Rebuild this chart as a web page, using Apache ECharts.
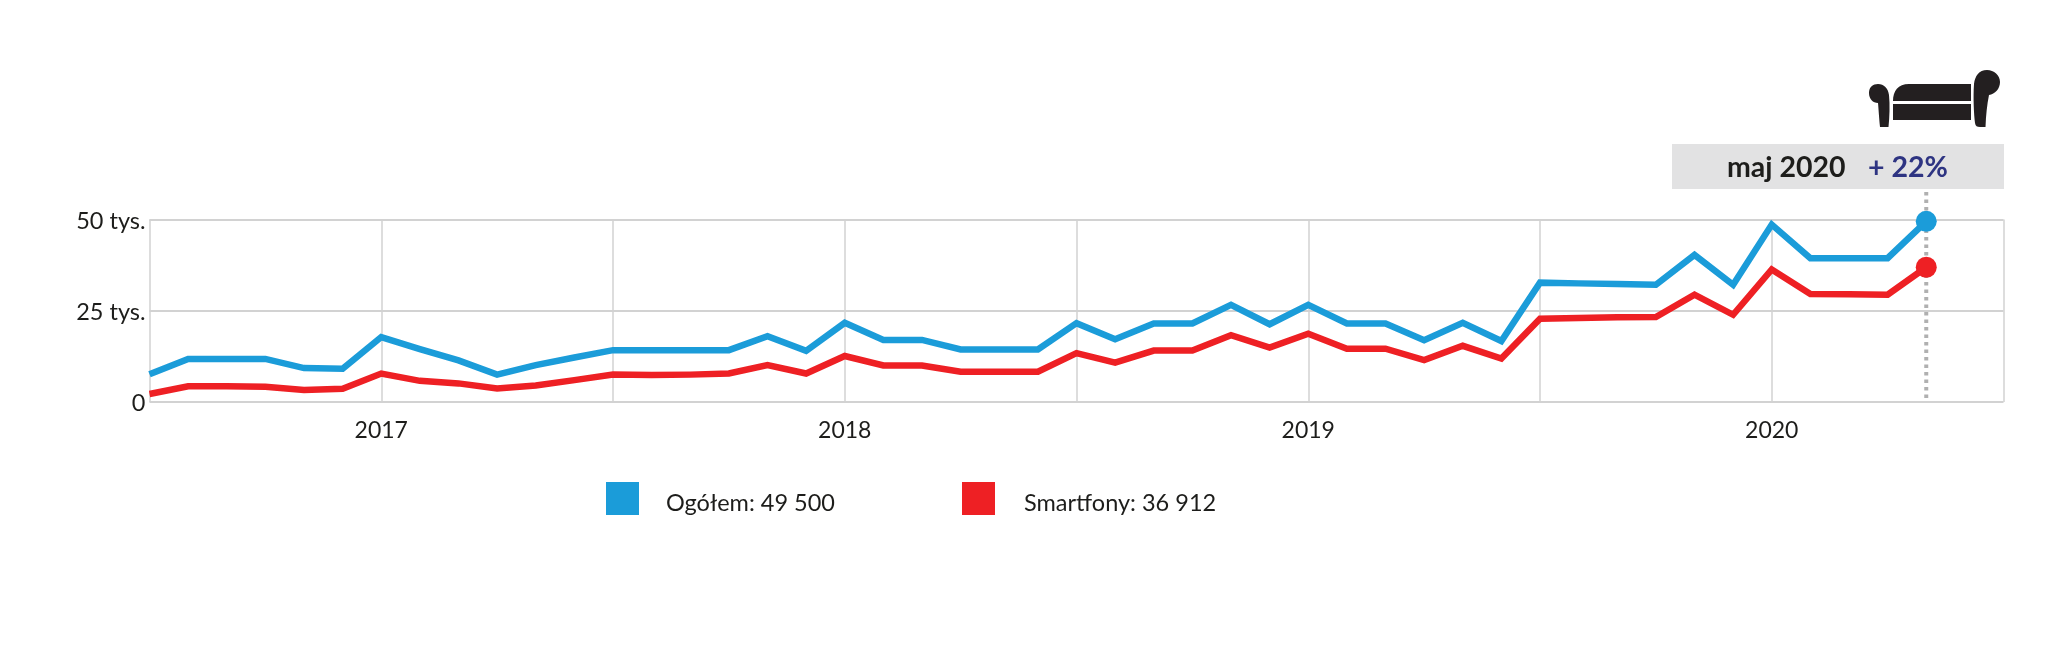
<!DOCTYPE html>
<html><head><meta charset="utf-8">
<style>html,body{margin:0;padding:0;background:#fff}#c{width:2048px;height:647px}</style>
<script src="https://cdn.jsdelivr.net/npm/echarts@6/dist/echarts.min.js"></script>
</head><body><div id="c"></div>
<script>
const months = [
 '2016-07','2016-08','2016-09','2016-10','2016-11','2016-12',
 '2017-01','2017-02','2017-03','2017-04','2017-05','2017-06','2017-07','2017-08','2017-09','2017-10','2017-11','2017-12',
 '2018-01','2018-02','2018-03','2018-04','2018-05','2018-06','2018-07','2018-08','2018-09','2018-10','2018-11','2018-12',
 '2019-01','2019-02','2019-03','2019-04','2019-05','2019-06','2019-07','2019-08','2019-09','2019-10','2019-11','2019-12',
 '2020-01','2020-02','2020-03','2020-04','2020-05','2020-06','2020-07'];
const total = [7600,11800,11800,11800,9300,9100,
 17800,14500,11400,7500,10100,12200,14200,14200,14200,14200,18000,14000,
 21700,17000,17000,14400,14400,14400,21600,17200,21500,21500,26600,21300,
 26600,21500,21500,16900,21700,16700,32700,32500,32300,32100,40300,32100,
 48600,39400,39400,39400,49500,null,null];
const smartphones = [2200,4300,4300,4200,3300,3600,
 7800,5800,5100,3700,4500,6000,7500,7400,7500,7800,10100,7800,
 12600,10000,10000,8300,8300,8300,13400,10800,14100,14100,18300,14900,
 18700,14600,14600,11500,15400,11900,22800,23000,23200,23300,29400,23900,
 36300,29600,29500,29400,36912,null,null];
const totalName = 'Ogółem: 49 500';
const phoneName = 'Smartfony: 36 912';
const yTicks = {0:'0',25000:'25 tys.',50000:'50 tys.'};
const badgeDate = 'maj 2020';
const badgeChange = '+ 22%';
const highlight = '2020-05';

const FONT = 'Lato, sans-serif';
const BLUE = '#1b9cd9', RED = '#ee2024', GRID = '#d2d2d2', INK = '#1d1d1b';
const hi = months.indexOf(highlight);
const sofaPath = 'M0 23C0 17 4 14 9 14C15 14 19 18 20 25C21 35 20.5 47 19.5 57L11 57C10 47 9.5 38 9 33C4 33 0 29 0 23Z'
 + 'M131 12C131 5 125 0 118 0C110 0 106 6 105 14C104 28 105 45 106 53C106.5 56 108 57 111 57L116.5 57C117 45 118 35 120 25C126 24 131 19 131 12Z'
 + 'M24 31C24 21 29 14 40 14L102 14L102 31Z'
 + 'M24 34L102 34L102 50L24 50Z';
echarts.graphic.registerShape('sofa', echarts.graphic.extendPath(sofaPath, {}));

const chart = echarts.init(document.getElementById('c'), null, {renderer:'canvas'});
const lineSeries = (name, data, color) => ({
  name, type:'line', data, connectNulls:true, smooth:false, z:5,
  showAllSymbol:true,
  symbol:(v,p)=> p.dataIndex===hi ? 'circle' : 'none',
  symbolSize:21,
  lineStyle:{color, width:6.5, join:'miter'},
  itemStyle:{color},
  emphasis:{disabled:true},
  animation:false
});
const legendOf = (name, left, color, gap) => ({
  data:[{name, icon:'rect', itemStyle:{color}}],
  left, top:482, padding:0, itemWidth:33, itemHeight:33, selectedMode:false,
  formatter:'{t|{name}}',
  textStyle:{rich:{t:{fontFamily:FONT, fontSize:23.5, color:INK, padding:[10,0,0,gap]}}}
});
chart.setOption({
  backgroundColor:'#fff',
  animation:false,
  grid:{left:149.5, right:44.5, top:219.5, bottom:245, containLabel:false},
  legend:[legendOf(totalName,606,BLUE,22), legendOf(phoneName,962,RED,24)],
  xAxis:{
    type:'category', data:months, boundaryGap:false,
    axisLine:{show:false}, axisTick:{show:false},
    splitLine:{show:true, interval:5, lineStyle:{color:GRID, width:1.5}},
    axisLabel:{interval:5, margin:17, color:INK, fontFamily:FONT, fontSize:23,
      formatter:v=> v.endsWith('-01') ? v.slice(0,4) : ''}
  },
  yAxis:{
    type:'value', min:0, max:50000, interval:25000,
    axisLine:{show:false}, axisTick:{show:false},
    splitLine:{lineStyle:{color:GRID, width:2}},
    axisLabel:{margin:4, formatter:v=>'{t|'+yTicks[v]+'}',
      rich:{t:{fontFamily:FONT, fontSize:23.5, color:INK, padding:[3,0,0,0]}}}
  },
  series:[lineSeries(totalName,total,BLUE), lineSeries(phoneName,smartphones,RED)]
});
const xHi = chart.convertToPixel({xAxisIndex:0}, highlight);
chart.setOption({graphic:[
  {type:'line', z:3, shape:{x1:xHi,y1:192,x2:xHi,y2:402},
   style:{stroke:'#b0b0b0',lineWidth:4,lineDash:[3.5,4]}},
  {type:'rect', z:2, shape:{x:1672,y:144,width:332,height:45}, style:{fill:'#e2e2e3'}},
  {type:'text', z:4, x:1727,y:168, style:{text:badgeDate, fill:INK, font:'700 28.5px '+FONT, verticalAlign:'middle'}},
  {type:'text', z:4, x:1868,y:168, style:{text:badgeChange, fill:'#2e3482', font:'700 28.5px '+FONT, verticalAlign:'middle'}},
  {type:'sofa', z:4, x:1869, y:70, style:{fill:'#231f20'}}
]});
</script></body></html>
